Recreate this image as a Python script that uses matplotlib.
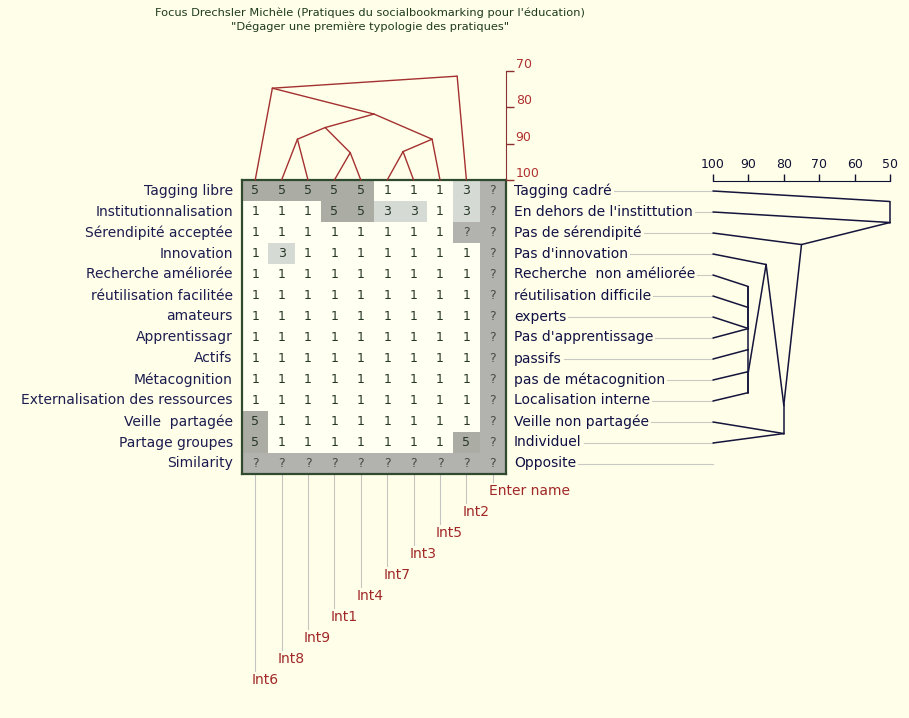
import matplotlib
matplotlib.use("Agg")
import matplotlib.pyplot as plt
import numpy as np

# --- data ---------------------------------------------------------------
title_lines = ["Focus Drechsler Michèle (Pratiques du socialbookmarking pour l'éducation)",
               "\"Dégager une première typologie des pratiques\""]

left_poles = ["Tagging libre", "Institutionnalisation", "Sérendipité acceptée", "Innovation",
              "Recherche améliorée", "réutilisation facilitée", "amateurs", "Apprentissagr",
              "Actifs", "Métacognition", "Externalisation des ressources", "Veille  partagée",
              "Partage groupes", "Similarity"]
right_poles = ["Tagging cadré", "En dehors de l'instittution", "Pas de sérendipité",
               "Pas d'innovation", "Recherche  non améliorée", "réutilisation difficile",
               "experts", "Pas d'apprentissage", "passifs", "pas de métacognition",
               "Localisation interne", "Veille non partagée", "Individuel", "Opposite"]
elements = ["Int6", "Int8", "Int9", "Int1", "Int4", "Int7", "Int3", "Int5", "Int2", "Enter name"]

ratings = ["555551113?",
           "111553313?",
           "11111111??",
           "131111111?",
           "111111111?",
           "111111111?",
           "111111111?",
           "111111111?",
           "111111111?",
           "111111111?",
           "111111111?",
           "511111111?",
           "511111115?",
           "??????????"]

# element tree: (node, child a, child b, level, x position in element units)
elem_merges = [("n12", "e1", "e2", 88.8, 1.6),
               ("n34", "e3", "e4", 92.5, 3.6),
               ("n56", "e5", "e6", 92.2, 5.6),
               ("N", "n12", "n34", 85.6, 2.65),
               ("n567", "n56", "e7", 88.8, 6.7),
               ("M", "N", "n567", 81.9, 4.5),
               ("P", "e0", "M", 74.8, 0.65),
               ("Q", "P", "e8", 71.5, 7.65)]

# construct tree: (node, child a, child b, level, y position in construct rows)
cons_merges = [("m1", "c6", "c7", 90, 6.55),
               ("m2", "c5", "m1", 90, 5.55),
               ("m3", "c4", "m2", 90, 4.55),
               ("m4", "m3", "c8", 90, 7.55),
               ("m5", "m4", "c10", 90, 9.6),
               ("m6", "m5", "c9", 90, 8.6),
               ("A", "c3", "m6", 85, 3.5),
               ("B1", "c11", "c12", 80, 11.55),
               ("B", "A", "B1", 80, 10.2),
               ("D", "c2", "B", 75, 2.55),
               ("T1", "c1", "D", 50, 1.5),
               ("T", "c0", "T1", 50, 0.5)]

top_ticks = [70, 80, 90, 100]
right_ticks = [100, 90, 80, 70, 60, 50]

# --- style --------------------------------------------------------------
W, H = 909, 718
BG = '#ffffe9'
cell_colors = {'1': '#fffff2', '3': '#d6dad4', '5': '#abada4', '?': '#b2b2ae'}
plt.rcParams['font.family'] = ['DejaVu Sans']


def box(x0, y0, x1, y1):
    return [x0 / W, 1 - y1 / H, (x1 - x0) / W, (y1 - y0) / H]


fig = plt.figure(figsize=(W / 100, H / 100), dpi=100, facecolor=BG)

fig.text(370 / W, 1 - 13 / H, title_lines[0], ha='center', va='center', fontsize=8.2, color='#1f3a1f')
fig.text(370 / W, 1 - 27 / H, title_lines[1], ha='center', va='center', fontsize=8.2, color='#1f3a1f')

# --- grid ---------------------------------------------------------------
ax = fig.add_axes(box(242, 180, 506, 474))
nrow, ncol = len(ratings), len(ratings[0])
img = np.array([[matplotlib.colors.to_rgb(cell_colors[ch]) for ch in row] for row in ratings])
ax.imshow(img, extent=(-0.5, ncol - 0.5, nrow - 0.5, -0.5), aspect='auto', interpolation='nearest')
for i, row in enumerate(ratings):
    for j, ch in enumerate(row):
        ax.text(j, i, ch, ha='center', va='center', fontsize=9,
                color='#4a4a4a' if ch == '?' else '#263626')
ax.set_xlim(-0.5, ncol - 0.5)
ax.set_ylim(nrow - 0.5, -0.5)
ax.set_xticks([])
ax.set_yticks([])
for s in ax.spines.values():
    s.set_color('#2f4a2f')
    s.set_linewidth(1.6)

# --- construct tree axes ------------------------------------------------
ax_r = fig.add_axes(box(713, 180.5, 890, 453.5))
ax_r.patch.set_visible(False)
ax_r.set_xlim(100, 50)
ax_r.set_ylim(12.5, -0.5)
ax_r.xaxis.tick_top()
ax_r.set_xticks(right_ticks)
ax_r.set_yticks([])
ax_r.tick_params(axis='x', direction='out', length=5, width=1, pad=2, labelsize=9,
                 colors='#111133')
for k, s in ax_r.spines.items():
    s.set_visible(k == 'top')
ax_r.spines['top'].set_color('#111133')

pos = {f"c{i}": (100, i) for i in range(len(left_poles) - 1)}
for node, a, b, level, y in cons_merges:
    pos[node] = (level, y)
    for c in (a, b):
        ax_r.plot([pos[c][0], level], [pos[c][1], y], color='#14143c', lw=1.1,
                  solid_capstyle='round', clip_on=False)

# pole labels and connector lines
x_leaf = ax.transData.inverted().transform(ax_r.transData.transform((100, 0)))[0]
for i in range(nrow):
    ax.text(-0.85, i, left_poles[i], ha='right', va='center', fontsize=10,
            color='#1c1c50', clip_on=False)
    ax.plot([ncol - 0.2, x_leaf], [i, i], color='#c9c9c4', lw=0.8, clip_on=False, zorder=1)
    ax.text(ncol - 0.2, i, right_poles[i], ha='left', va='center', fontsize=10,
            color='#101045', clip_on=False, zorder=4,
            bbox=dict(facecolor=BG, edgecolor='none', pad=1.5))

# element labels, stair-stepped
for j, name in enumerate(elements):
    y_lab = nrow + 0.33 + (ncol - 1 - j)
    ax.plot([j, j], [nrow - 0.5, y_lab - 0.45], color='#c4c4c0', lw=0.8, clip_on=False, zorder=1)
    ax.text(j - 0.15, y_lab, name, ha='left', va='center', fontsize=10,
            color='#a02828', clip_on=False)

# --- element tree axes --------------------------------------------------
ax_t = fig.add_axes(box(242, 70.7, 506, 180))
ax_t.patch.set_visible(False)
ax_t.set_xlim(-0.5, ncol - 0.5)
ax_t.set_ylim(100, 70)
ax_t.yaxis.tick_right()
ax_t.set_yticks(top_ticks)
ax_t.set_xticks([])
ax_t.tick_params(axis='y', direction='out', length=6, width=1, pad=1, labelsize=9,
                 color='#8b3030', labelcolor='#b03030')
plt.setp(ax_t.get_yticklabels(), va='bottom')
for k, s in ax_t.spines.items():
    s.set_visible(k == 'right')
ax_t.spines['right'].set_color('#8b3030')

tpos = {f"e{j}": (j, 100) for j in range(ncol - 1)}
for node, a, b, level, x in elem_merges:
    tpos[node] = (x, level)
    for c in (a, b):
        ax_t.plot([tpos[c][0], x], [tpos[c][1], level], color='#a33030', lw=1.0,
                  solid_capstyle='round', clip_on=False)

fig.savefig("out.png", dpi=100, facecolor=BG)
